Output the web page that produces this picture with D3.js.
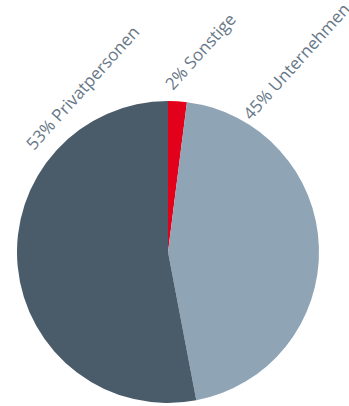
<!DOCTYPE html>
<html><head><meta charset="utf-8">
<script src="https://cdn.jsdelivr.net/npm/d3@7"></script>
<style>html,body{margin:0;padding:0;background:#fff;overflow:hidden}</style>
</head><body>
<svg id="c" width="349" height="406"></svg>
<script>
const categories = ["Sonstige", "Unternehmen", "Privatpersonen"];
const values = [2, 45, 53];
const labels = ["2% Sonstige", "45% Unternehmen", "53% Privatpersonen"];
const colors = ["#e2001a", "#8fa4b5", "#4a5b6a"];

const W = 349, H = 406, cx = 168, cy = 252, R = 151;
// label baseline start positions (layout)
const labelPos = [[173, 91], [251, 121], [34, 151]];
const labelAngle = -48;

const svg = d3.select("#c");
const pie = d3.pie().sort(null).value(d => d)(values);
const arc = d3.arc().innerRadius(0).outerRadius(R);
const color = d3.scaleOrdinal().domain(categories).range(colors);

const g = svg.append("g").attr("transform", `translate(${cx},${cy})`);
g.selectAll("path").data(pie).join("path")
  .attr("d", arc)
  .attr("fill", (d, i) => color(categories[i]));

svg.selectAll("text.lbl").data(labels).join("text")
  .attr("class", "lbl")
  .attr("transform", (d, i) => `translate(${labelPos[i][0]},${labelPos[i][1]}) rotate(${labelAngle})`)
  .attr("font-family", "'Open Sans', sans-serif")
  .attr("font-size", 17)
  .attr("fill", "#687888")
  .text(d => d);
</script>
</body></html>
